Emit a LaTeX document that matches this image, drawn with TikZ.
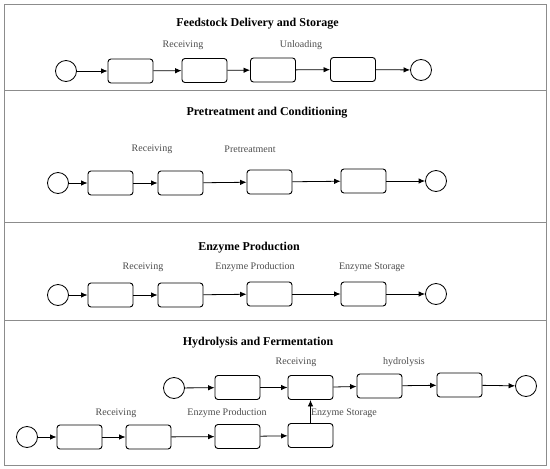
\documentclass[tikz,border=0pt]{standalone}
\usepackage{fontspec}
\setmainfont{Liberation Serif}
\usetikzlibrary{arrows.meta}
\begin{document}
\begin{tikzpicture}[x=1pt,y=-1pt,
  task/.style={draw,line width=0.9pt,rounded corners=3pt,minimum width=45pt,minimum height=24pt,inner sep=0pt},
  ev/.style={draw,circle,line width=0.8pt,minimum size=21pt,inner sep=0pt},
  flow/.style={-{Latex[length=6.5pt,width=5.5pt]},line width=0.8pt},
  ttl/.style={font=\bfseries\fontsize{12}{14}\selectfont},
  lbl/.style={font=\fontsize{10}{12}\selectfont,text=black!70},
  frame/.style={draw=black!45,line width=0.8pt}]
\useasboundingbox (0,0) rectangle (550,469);
\draw[frame] (4,4) rectangle (546,465);
\draw[frame] (4,90) -- (546,90);
\draw[frame] (4,222) -- (546,222);
\draw[frame] (4,320) -- (546,320);
% Row 1
\node[ttl] (t1) at (257.5,24) {Feedstock Delivery and Storage};
\node[lbl] (l11) at (183,45) {Receiving};
\node[lbl] (l12) at (301,45) {Unloading};
\node[ev] (s1) at (66,71) {};
\node[task] (a1) at (130.5,71) {};
\node[task] (a2) at (204.5,70.5) {};
\node[task] (a3) at (273,70) {};
\node[task] (a4) at (353,69.5) {};
\node[ev] (e1) at (421,70) {};
\draw[flow] (s1) -- (a1);
\draw[flow] (a1) -- (a2);
\draw[flow] (a2) -- (a3);
\draw[flow] (a3) -- (a4);
\draw[flow] (a4) -- (e1);
% Row 2
\node[ttl] (t2) at (267,113) {Pretreatment and Conditioning};
\node[lbl] (l21) at (152,149) {Receiving};
\node[lbl] (l22) at (250,149) {Pretreatment};
\node[ev] (s2) at (58,183) {};
\node[task] (b1) at (110.5,183) {};
\node[task] (b2) at (180.5,183) {};
\node[task] (b3) at (269.5,182) {};
\node[task] (b4) at (363.5,181) {};
\node[ev] (e2) at (436,181) {};
\draw[flow] (s2) -- (b1);
\draw[flow] (b1) -- (b2);
\draw[flow] (b2) -- (b3);
\draw[flow] (b3) -- (b4);
\draw[flow] (b4) -- (e2);
% Row 3
\node[ttl] (t3) at (249,248) {Enzyme Production};
\node[lbl] (l31) at (143,267) {Receiving};
\node[lbl] (l32) at (255,267) {Enzyme Production};
\node[lbl] (l33) at (372,267) {Enzyme Storage};
\node[ev] (s3) at (58,295) {};
\node[task] (c1) at (110.5,295) {};
\node[task] (c2) at (180.5,295) {};
\node[task] (c3) at (269.5,294) {};
\node[task] (c4) at (363.5,294) {};
\node[ev] (e3) at (436,294) {};
\draw[flow] (s3) -- (c1);
\draw[flow] (c1) -- (c2);
\draw[flow] (c2) -- (c3);
\draw[flow] (c3) -- (c4);
\draw[flow] (c4) -- (e3);
% Row 4
\node[ttl] (t4) at (258,343) {Hydrolysis and Fermentation};
\node[lbl] (l41) at (296,362) {Receiving};
\node[lbl] (l42) at (404,362) {hydrolysis};
\node[ev] (s4) at (174,388) {};
\node[task] (d1) at (237.5,387.5) {};
\node[task] (d2) at (310.5,387.5) {};
\node[task] (d3) at (379.5,386) {};
\node[task] (d4) at (459.5,385) {};
\node[ev] (e4) at (526,386) {};
\draw[flow] (s4) -- (d1);
\draw[flow] (d1) -- (d2);
\draw[flow] (d2) -- (d3);
\draw[flow] (d3) -- (d4);
\draw[flow] (d4) -- (e4);
\node[lbl] (l51) at (116,413) {Receiving};
\node[lbl] (l52) at (227,413) {Enzyme Production};
\node[lbl] (l53) at (344,413) {Enzyme Storage};
\node[ev] (s5) at (27,437) {};
\node[task] (f1) at (79.5,437) {};
\node[task] (f2) at (148.5,437) {};
\node[task] (f3) at (237.5,436.5) {};
\node[task] (f4) at (310.5,435.5) {};
\draw[flow] (s5) -- (f1);
\draw[flow] (f1) -- (f2);
\draw[flow] (f2) -- (f3);
\draw[flow] (f3) -- (f4);
\draw[flow] (f4) -- (d2);
\end{tikzpicture}
\end{document}
